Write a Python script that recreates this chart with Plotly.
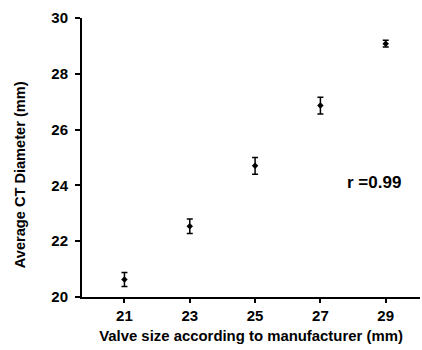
import plotly.graph_objects as go

valve_size = [21, 23, 25, 27, 29]
mean_ct = [20.63, 22.54, 24.70, 26.86, 29.08]
err_ct = [0.25, 0.26, 0.30, 0.30, 0.12]
x_ticks = [21, 23, 25, 27, 29]
y_ticks = [20, 22, 24, 26, 28, 30]

font_fam = "Liberation Sans, Arial, sans-serif"
narrow = "Liberation Sans Narrow, Arial Narrow, Liberation Sans, sans-serif"

fig = go.Figure()
fig.add_trace(go.Scatter(
    x=valve_size, y=mean_ct, mode="markers",
    marker=dict(color="black", size=5, symbol="diamond"),
    error_y=dict(type="data", array=err_ct, visible=True, color="black", thickness=1.5, width=3),
    showlegend=False,
))

fig.add_annotation(x=28.65, y=24.1, text="<b>r =0.99</b>", showarrow=False,
                   font=dict(family=font_fam, size=17, color="black"))

fig.add_annotation(xref="paper", yref="paper", x=-0.183, y=0.437,
                   text="<b>Average CT Diameter (mm)</b>", textangle=-90, showarrow=False,
                   xanchor="center", yanchor="middle",
                   font=dict(family=narrow, size=14.6, color="black"))

fig.update_layout(
    width=422, height=350,
    margin=dict(l=82, r=2, t=18, b=53),
    plot_bgcolor="white", paper_bgcolor="white",
    font=dict(family=font_fam, color="black"),
    xaxis=dict(
        range=[19.7, 30.05], tickvals=x_ticks, ticktext=[f"<b>{v}</b>" for v in x_ticks],
        showgrid=False, zeroline=False, showline=True, linecolor="black", linewidth=2,
        ticks="outside", ticklen=4, tickwidth=1.5, tickcolor="black",
        tickfont=dict(size=15, family=font_fam),
        title=dict(text="<b>Valve size according to manufacturer (mm)</b>", font=dict(size=14.9, family=narrow), standoff=8),
    ),
    yaxis=dict(
        range=[20, 30], tickvals=y_ticks, ticktext=[f"<b>{v}</b>" for v in y_ticks],
        showgrid=False, zeroline=False, showline=True, linecolor="black", linewidth=2,
        ticks="outside", ticklen=5, tickwidth=1.5, tickcolor="black", ticklabelstandoff=4,
        tickfont=dict(size=15, family=font_fam),
    ),
)

fig.write_html("out.html")
